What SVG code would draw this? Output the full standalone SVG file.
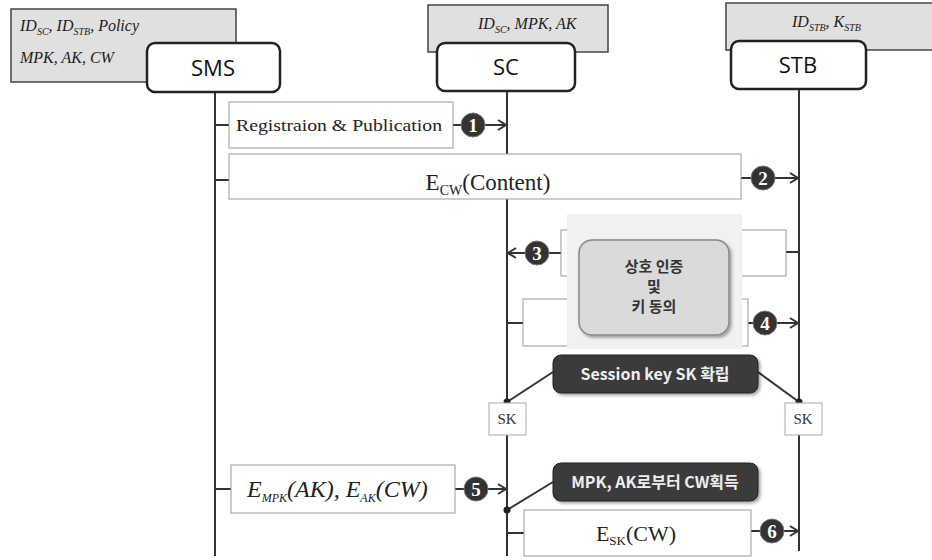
<svg xmlns="http://www.w3.org/2000/svg" width="932" height="560" viewBox="0 0 932 560">
<style>
.info{fill:#e0e0e0;stroke:#444;stroke-width:1.5}
.node{fill:#fff;stroke:#222;stroke-width:2.5}
.nt{font-family:"Open Sans","DejaVu Sans",sans-serif;font-size:22px;fill:#111;text-anchor:middle}
.it{font-family:"Liberation Serif",serif;font-style:italic;fill:#222}
.life{stroke:#333;stroke-width:2;fill:none}
.msg{fill:#fff;stroke:#999;stroke-width:1}
.ln{stroke:#333;stroke-width:2;fill:none}
.mt{font-family:"Liberation Serif",serif;fill:#222}
.num{fill:#333;stroke:#777;stroke-width:1}
.nn{font-family:"Liberation Serif",serif;font-size:19px;font-weight:bold;fill:#fff;text-anchor:middle}
.dark{fill:#3a3a3a;stroke:#222;stroke-width:1}
.dt{font-family:"Noto Sans CJK KR","Noto Sans",sans-serif;font-size:16px;font-weight:bold;fill:#eee;text-anchor:middle}
.sk{fill:#fff;stroke:#aaa;stroke-width:1}
.skt{font-family:"Liberation Serif",serif;font-size:15px;fill:#333;text-anchor:middle}
.dot{fill:#222}
</style>
<defs>
<marker id="arr" markerWidth="12" markerHeight="12" refX="10" refY="6" orient="auto" markerUnits="userSpaceOnUse">
<path d="M2,1 L10,6 L2,11" fill="none" stroke="#333" stroke-width="2"/>
</marker>
<filter id="sh" x="-10%" y="-10%" width="130%" height="130%">
<feDropShadow dx="2" dy="2" stdDeviation="1.5" flood-color="#000" flood-opacity="0.35"/>
</filter>
</defs>

<g id="lifelines">
<line class="life" x1="215" y1="92" x2="215" y2="556"/>
<line class="life" x1="507" y1="91" x2="507" y2="556"/>
<line class="life" x1="799" y1="89" x2="799" y2="551"/>
</g>

<g id="SMS-info">
<rect class="info" x="11" y="9" width="225" height="73"/>
<text class="it" x="20" y="31" font-size="16">ID<tspan font-size="10" dy="4">SC</tspan><tspan dy="-4">, ID</tspan><tspan font-size="10" dy="4">STB</tspan><tspan dy="-4">, Policy</tspan></text>
<text class="it" x="20" y="63" font-size="16">MPK, AK, CW</text>
</g>
<g id="SC-info">
<rect class="info" x="428" y="5" width="180" height="47"/>
<text class="it" x="478" y="29" font-size="16">ID<tspan font-size="10" dy="4">SC</tspan><tspan dy="-4">, MPK, AK</tspan></text>
</g>
<g id="STB-info">
<rect class="info" x="726" y="3" width="210" height="47"/>
<text class="it" x="792" y="27" font-size="16">ID<tspan font-size="10" dy="4">STB</tspan><tspan dy="-4">, K</tspan><tspan font-size="10" dy="4">STB</tspan></text>
</g>

<g id="SMS">
<rect class="node" x="147" y="43" width="133" height="49" rx="8"/>
<text class="nt" x="213" y="76">SMS</text>
</g>
<g id="SC">
<rect class="node" x="437" y="43" width="138" height="48" rx="8"/>
<text class="nt" x="506" y="75">SC</text>
</g>
<g id="STB">
<rect class="node" x="731" y="41" width="135" height="48" rx="8"/>
<text class="nt" x="798" y="73">STB</text>
</g>

<g id="connectors">
<line class="ln" x1="215" y1="125" x2="229" y2="125"/>
<line class="ln" x1="453" y1="125" x2="461" y2="125"/>
<line class="ln" x1="485" y1="125" x2="506" y2="125" marker-end="url(#arr)"/>
<line class="ln" x1="215" y1="180" x2="229" y2="180"/>
<line class="ln" x1="741" y1="178" x2="751" y2="178"/>
<line class="ln" x1="775" y1="178" x2="798" y2="178" marker-end="url(#arr)"/>
<line class="ln" x1="799" y1="252" x2="786" y2="252"/>
<line class="ln" x1="561" y1="253" x2="549" y2="253"/>
<line class="ln" x1="525" y1="253" x2="508" y2="253" marker-end="url(#arr)"/>
<line class="ln" x1="507" y1="323" x2="523" y2="323"/>
<line class="ln" x1="748" y1="323" x2="753" y2="323"/>
<line class="ln" x1="777" y1="323" x2="798" y2="323" marker-end="url(#arr)"/>
<line class="ln" x1="215" y1="489" x2="231" y2="489"/>
<line class="ln" x1="455" y1="489" x2="464" y2="489"/>
<line class="ln" x1="488" y1="489" x2="506" y2="489" marker-end="url(#arr)"/>
<line class="ln" x1="507" y1="533" x2="524" y2="533"/>
<line class="ln" x1="751" y1="531" x2="760" y2="531"/>
<line class="ln" x1="784" y1="531" x2="798" y2="531" marker-end="url(#arr)"/>
<line class="ln" x1="553" y1="372" x2="507" y2="402"/>
<line class="ln" x1="758" y1="372" x2="799" y2="402"/>
<line class="ln" x1="553" y1="482" x2="507" y2="510"/>
<circle class="dot" cx="507" cy="402" r="3.5"/>
<circle class="dot" cx="799" cy="402" r="3.5"/>
<circle class="dot" cx="507" cy="510" r="3.5"/>
</g>

<g id="msg1">
<rect class="msg" x="229" y="102" width="224" height="46"/>
<text class="mt" x="236" y="131" font-size="17" textLength="206" lengthAdjust="spacingAndGlyphs">Registraion &amp; Publication</text>
<circle class="num" cx="473" cy="125" r="12"/>
<text class="nn" x="473" y="132">1</text>
</g>
<g id="msg2">
<rect class="msg" x="229" y="154" width="512" height="45"/>
<text class="mt" x="488" y="190" font-size="23" text-anchor="middle">E<tspan font-size="14" dy="5">CW</tspan><tspan dy="-5">(Content)</tspan></text>
<circle class="num" cx="763" cy="178" r="12"/>
<text class="nn" x="763" y="185">2</text>
</g>
<g id="msg3">
<rect class="msg" x="561" y="230" width="225" height="46"/>
<circle class="num" cx="537" cy="253" r="12"/>
<text class="nn" x="537" y="260">3</text>
</g>
<g id="msg4">
<rect class="msg" x="523" y="299" width="225" height="47"/>
<circle class="num" cx="765" cy="323" r="12"/>
<text class="nn" x="765" y="330">4</text>
</g>
<g id="auth">
<rect x="567" y="214" width="175" height="135" fill="#f1f1f1"/>
<rect x="579" y="240" width="150" height="95" rx="13" fill="#dadada" stroke="#888" stroke-width="1.5" filter="url(#sh)"/>
<text font-family="Noto Sans CJK KR,sans-serif" font-size="15" font-weight="bold" fill="#333" text-anchor="middle"><tspan x="654" y="272">상호 인증</tspan><tspan x="654" y="292">및</tspan><tspan x="654" y="312">키 동의</tspan></text>
</g>
<g id="session">
<rect class="dark" x="553" y="355" width="205" height="38" rx="8" filter="url(#sh)"/>
<text class="dt" x="655" y="380">Session key SK 확립</text>
</g>
<g id="sk-sc">
<rect class="sk" x="489" y="403" width="37" height="32"/>
<text class="skt" x="507" y="424">SK</text>
</g>
<g id="sk-stb">
<rect class="sk" x="785" y="403" width="37" height="32"/>
<text class="skt" x="803" y="424">SK</text>
</g>
<g id="msg5">
<rect class="msg" x="231" y="465" width="224" height="48"/>
<text class="it" x="247" y="497" font-size="24">E<tspan font-size="12" dy="5">MPK</tspan><tspan dy="-5">(AK), E</tspan><tspan font-size="12" dy="5">AK</tspan><tspan dy="-5">(CW)</tspan></text>
<circle class="num" cx="476" cy="489" r="12"/>
<text class="nn" x="476" y="496">5</text>
</g>
<g id="cw">
<rect class="dark" x="553" y="463" width="205" height="38" rx="8" filter="url(#sh)"/>
<text class="dt" x="655" y="488">MPK, AK로부터 CW획득</text>
</g>
<g id="msg6">
<rect class="msg" x="524" y="510" width="227" height="46"/>
<text class="mt" x="636" y="541" font-size="22" text-anchor="middle">E<tspan font-size="13" dy="4">SK</tspan><tspan dy="-4">(CW)</tspan></text>
<circle class="num" cx="772" cy="531" r="12"/>
<text class="nn" x="772" y="538">6</text>
</g>
</svg>
